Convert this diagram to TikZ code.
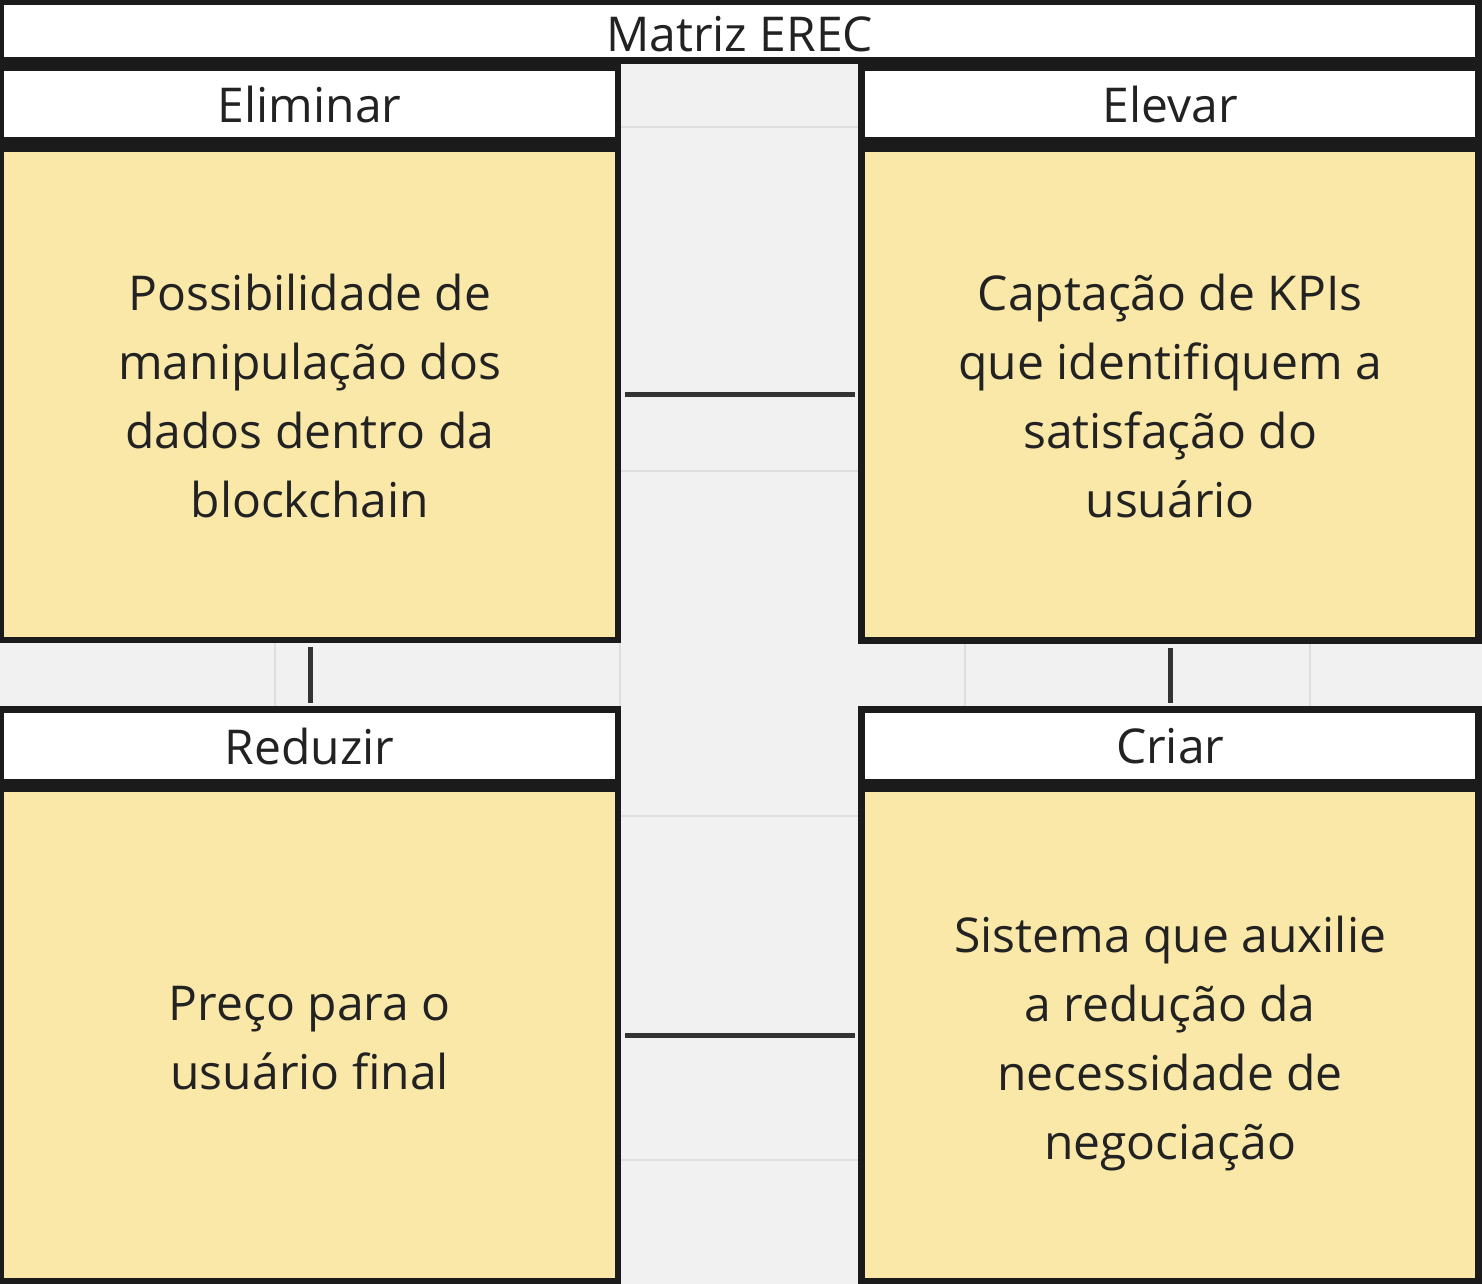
\documentclass[tikz,border=0pt]{standalone}
\usepackage{fontspec}
\setmainfont{Open Sans}
\definecolor{bg}{RGB}{241,241,241}
\definecolor{gridc}{RGB}{222,222,222}
\definecolor{frame}{RGB}{27,27,27}
\definecolor{sticky}{RGB}{250,232,168}
\definecolor{ink}{RGB}{34,34,34}
\definecolor{conn}{RGB}{51,51,51}
\begin{document}
\begin{tikzpicture}[x=1pt,y=-1pt,
  framebox/.style={fill=frame, inner sep=0pt, anchor=north west, draw=none},
  headbox/.style={fill=white, inner sep=0pt, anchor=north west, minimum width=611pt, minimum height=66pt, text=ink, font=\fontsize{48}{69}\selectfont},
  bodybox/.style={fill=sticky, inner sep=0pt, anchor=north west, minimum width=611pt, minimum height=486pt},
  bodytext/.style={inner sep=0pt, text=ink, align=center, font=\fontsize{48}{69}\selectfont},
  link/.style={draw=conn, line width=5pt},
  gridline/.style={draw=gridc, line width=2pt}]
\useasboundingbox (0,0) rectangle (1482,1284);
\fill[bg] (0,0) rectangle (1482,1284);
% grid
\foreach \gx in {275,620,965,1310} \draw[gridline] (\gx,0) -- (\gx,1284);
\foreach \gy in {127,471,816,1160} \draw[gridline] (0,\gy) -- (1482,\gy);
% title
\node[framebox, minimum width=1482pt, minimum height=64pt] (titleframe) at (0,0) {};
\node[fill=white, inner sep=0pt, anchor=north west, minimum width=1471pt, minimum height=52pt] (title) at (4,5) {};
\node[bodytext, yshift=-3pt] (titletext) at (title.center) {Matriz EREC};
% frames
\node[framebox, minimum width=621pt, minimum height=579pt] (TL) at (0,64) {};
\node[framebox, minimum width=624pt, minimum height=580pt] (TR) at (858,64) {};
\node[framebox, minimum width=621pt, minimum height=578pt] (BL) at (0,706) {};
\node[framebox, minimum width=624pt, minimum height=578pt] (BR) at (858,706) {};
% headers
\node[headbox] (hTL) at (4,71) {Eliminar};
\node[headbox, minimum width=610pt] (hTR) at (865,71) {Elevar};
\node[headbox] (hBL) at (4,713) {Reduzir};
\node[headbox, minimum width=610pt] (hBR) at (865,713) {Criar};
% bodies
\node[bodybox, minimum height=485pt] (bTL) at (4,152) {};
\node[bodybox, minimum width=610pt, minimum height=485pt] (bTR) at (865,152) {};
\node[bodybox] (bBL) at (4,792) {};
\node[bodybox, minimum width=610pt] (bBR) at (865,792) {};
\node[bodytext, yshift=-1.5pt] (tTL) at (bTL.center) {Possibilidade de\\manipulação dos\\dados dentro da\\blockchain};
\node[bodytext, yshift=-1.5pt] (tTR) at (bTR.center) {Captação de KPIs\\que identifiquem a\\satisfação do\\usuário};
\node[bodytext, yshift=-3pt] (tBL) at (bBL.center) {Preço para o\\usuário final};
\node[bodytext, yshift=-8pt] (tBR) at (bBR.center) {Sistema que auxilie\\a redução da\\necessidade de\\negociação};
% connectors
\draw[link, shorten <=10pt, shorten >=10pt] (bTL.east) -- (bTR.west);
\draw[link, shorten <=10pt, shorten >=10pt] (bBL.east) -- (bBR.west);
\draw[link, shorten <=4pt, shorten >=3pt] (TL.south) -- (BL.north);
\draw[link, shorten <=4pt, shorten >=3pt] (TR.south) -- (BR.north);
\end{tikzpicture}
\end{document}
